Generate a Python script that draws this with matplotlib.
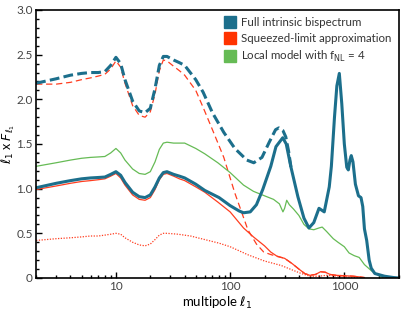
#!/usr/bin/env python3
# bispectrum comparison: full intrinsic vs squeezed-limit vs local fNL model

import matplotlib
matplotlib.use("Agg")
import matplotlib.pyplot as plt
from matplotlib.ticker import FixedLocator, FixedFormatter, MultipleLocator, LogLocator, NullFormatter

plt.rcParams["font.family"] = ["Lato", "DejaVu Sans"]
plt.rcParams["mathtext.fontset"] = "dejavusans"

BLUE = "#1c6f8c"
RED = "#ff3d1f"
GREEN = "#66bb55"

# full intrinsic bispectrum (solid, thick)
ell_full = [2, 3, 4, 5, 6, 7, 8, 9, 10, 11, 12, 14, 16, 18, 20, 22, 24, 26, 28, 32, 36, 40,
            50, 60, 80, 100, 120, 131, 150, 170, 193, 227, 252, 289, 310, 341, 392, 443, 490,
            540, 600, 667, 738, 770, 820, 860, 904, 950, 1000, 1050, 1084, 1120, 1150, 1190,
            1250, 1330, 1400, 1450, 1500, 1570, 1650, 1720, 1850, 2250, 2700, 3000]
full = [1.01, 1.06, 1.09, 1.11, 1.12, 1.125, 1.13, 1.16, 1.19, 1.15, 1.07, 0.96, 0.91, 0.90,
        0.93, 1.02, 1.12, 1.18, 1.19, 1.16, 1.14, 1.12,
        1.05, 0.98, 0.90, 0.81, 0.75, 0.73, 0.74, 0.82, 0.99, 1.25, 1.47, 1.57, 1.50, 1.24,
        0.91, 0.67, 0.56, 0.62, 0.78, 0.74, 1.02, 1.25, 1.80, 2.15, 2.29, 1.95, 1.50, 1.24,
        1.21, 1.32, 1.37, 1.30, 1.05, 0.92, 0.90, 0.80, 0.55, 0.42, 0.20, 0.11, 0.05, 0.02,
        0.005, 0.0]

# full bispectrum, dashed (upper set)
ell_full_d = [2, 3, 4, 5, 6, 7, 8, 9, 10, 11, 12, 14, 16, 18, 20, 22, 24, 26, 28, 32, 36, 40,
              50, 58, 70, 88, 110, 140, 161, 190, 220, 250, 267, 290, 307, 325, 341]
full_d = [2.18, 2.23, 2.27, 2.29, 2.30, 2.30, 2.31, 2.38, 2.47, 2.40, 2.22, 1.98, 1.87, 1.85,
          1.90, 2.12, 2.38, 2.48, 2.48, 2.44, 2.41, 2.38,
          2.22, 2.08, 1.85, 1.63, 1.45, 1.32, 1.29, 1.35, 1.52, 1.66, 1.68, 1.65, 1.58, 1.42, 1.24]

# squeezed-limit approximation
ell_sq = [2, 3, 4, 5, 6, 7, 8, 9, 10, 11, 12, 14, 16, 18, 20, 22, 24, 26, 28, 32, 36, 40,
          50, 60, 78, 100, 131, 160, 200, 227, 260, 300, 350, 400, 450, 500, 560, 620, 680,
          750, 850, 1000, 1200, 1400, 1500]
sq = [0.99, 1.03, 1.06, 1.08, 1.09, 1.10, 1.11, 1.14, 1.17, 1.12, 1.04, 0.93, 0.88, 0.87,
      0.90, 0.99, 1.10, 1.16, 1.17, 1.14, 1.11, 1.09,
      1.02, 0.96, 0.85, 0.74, 0.56, 0.46, 0.36, 0.29, 0.24, 0.22, 0.16, 0.10, 0.05, 0.03,
      0.04, 0.07, 0.065, 0.04, 0.03, 0.025, 0.02, 0.01, 0.005]

ell_sq_d = [2, 3, 4, 5, 6, 7, 8, 9, 10, 11, 12, 14, 16, 18, 20, 22, 24, 26, 28, 32, 36, 40,
            50, 58, 70, 88, 110, 143, 170, 197, 230, 265, 300, 350, 400, 450, 500, 560, 620,
            680, 750, 850, 1000, 1200, 1400, 1500]
sq_d = [2.17, 2.17, 2.19, 2.22, 2.24, 2.26, 2.28, 2.34, 2.43, 2.36, 2.18, 1.93, 1.82, 1.80,
        1.86, 2.06, 2.32, 2.44, 2.43, 2.37, 2.32, 2.27,
        2.10, 1.91, 1.66, 1.35, 0.95, 0.54, 0.38, 0.29, 0.26, 0.24, 0.22, 0.16, 0.10, 0.05,
        0.03, 0.04, 0.07, 0.065, 0.04, 0.03, 0.025, 0.02, 0.01, 0.005]

ell_sq_dot = [2, 3, 4, 5, 6, 7, 8, 9, 10, 11, 12, 14, 16, 18, 20, 22, 24, 26, 28, 35, 45,
              60, 80, 100, 143, 200, 280, 350, 420, 500, 600, 700, 900, 1100, 1400]
sq_dot = [0.42, 0.44, 0.45, 0.46, 0.47, 0.47, 0.48, 0.49, 0.50, 0.49, 0.45, 0.40, 0.37,
          0.36, 0.38, 0.43, 0.48, 0.50, 0.50, 0.49, 0.47,
          0.43, 0.39, 0.35, 0.26, 0.19, 0.14, 0.09, 0.05, 0.02, 0.02, 0.03, 0.02, 0.01, 0.0]

# local model, fNL = 4
ell_loc = [2, 3, 4, 5, 6, 7, 8, 9, 10, 11, 12, 14, 16, 18, 20, 22, 24, 26, 28, 32, 40,
           50, 60, 78, 100, 131, 160, 200, 240, 270, 290, 300, 313, 330, 360, 400, 443, 490,
           540, 600, 640, 700, 800, 880, 1000, 1100, 1220, 1350, 1500, 1730, 2000, 2200]
loc = [1.25, 1.29, 1.32, 1.34, 1.35, 1.355, 1.36, 1.40, 1.45, 1.40, 1.32, 1.22, 1.17,
       1.16, 1.19, 1.30, 1.44, 1.51, 1.52, 1.51, 1.51,
       1.45, 1.39, 1.29, 1.18, 1.04, 0.97, 0.92, 0.88, 0.83, 0.74, 0.78, 0.87, 0.82, 0.77,
       0.70, 0.60, 0.55, 0.54, 0.56, 0.57, 0.52, 0.44, 0.40, 0.35, 0.28, 0.25, 0.23, 0.15,
       0.08, 0.03, 0.0]

y_ticks = [0, 0.5, 1.0, 1.5, 2.0, 2.5, 3.0]
y_labels = ["0", "0.5", "1.0", "1.5", "2.0", "2.5", "3.0"]
x_ticks = [10, 100, 1000]
x_labels = ["10", "100", "1000"]

fig = plt.figure(figsize=(4.15, 3.12), dpi=100)
ax = fig.add_axes([0.087, 0.109, 0.874, 0.859])

ax.plot(ell_sq_dot, sq_dot, color=RED, lw=0.9, ls=(0, (1, 1.2)))
ax.plot(ell_sq_d, sq_d, color=RED, lw=0.9, ls=(0, (5, 3)))
ax.plot(ell_sq, sq, color=RED, lw=0.9)
ax.plot(ell_loc, loc, color=GREEN, lw=0.9)
ax.plot(ell_full, full, color=BLUE, lw=2.2, solid_joinstyle="round")
ax.plot(ell_full_d, full_d, color=BLUE, lw=2.2, ls=(0, (3.2, 1.4)))

ax.set_xscale("log")
ax.set_xlim(2, 3000)
ax.set_ylim(0, 3.0)

ax.xaxis.set_major_locator(FixedLocator(x_ticks))
ax.xaxis.set_major_formatter(FixedFormatter(x_labels))
ax.xaxis.set_minor_locator(LogLocator(base=10, subs=range(2, 10)))
ax.xaxis.set_minor_formatter(NullFormatter())
ax.yaxis.set_major_locator(FixedLocator(y_ticks))
ax.yaxis.set_major_formatter(FixedFormatter(y_labels))
ax.yaxis.set_minor_locator(MultipleLocator(0.1))

ax.tick_params(which="both", direction="in", top=False, right=False,
               labelsize=8.5, labelcolor="#444444", width=1.0, pad=2.5)
ax.tick_params(which="major", length=4)
ax.tick_params(which="minor", length=2)
for s in ax.spines.values():
    s.set_linewidth(1.2)

ax.set_xlabel(r"multipole $\ell_1$", fontsize=9.5, labelpad=2)
ax.set_ylabel(r"$\ell_1$ x $F_{\ell_1}$", fontsize=9)
ax.yaxis.set_label_coords(-0.054, 0.5)

# legend with square swatches
h1, = ax.plot([], [], ls="none", marker="s", ms=9, color=BLUE)
h2, = ax.plot([], [], ls="none", marker="s", ms=9, color="#ff3300")
h3, = ax.plot([], [], ls="none", marker="s", ms=9, color=GREEN)
ax.legend([h1, h2, h3],
          ["Full intrinsic bispectrum", "Squeezed-limit approximation",
           r"Local model with f$_{\rm NL}$ = 4"],
          loc="upper right", frameon=False, fontsize=8.3, handlelength=0.9,
          handletextpad=0.5, labelspacing=0.4, borderaxespad=0.25,
          labelcolor="#333333")

fig.savefig("out.png", dpi=100)
